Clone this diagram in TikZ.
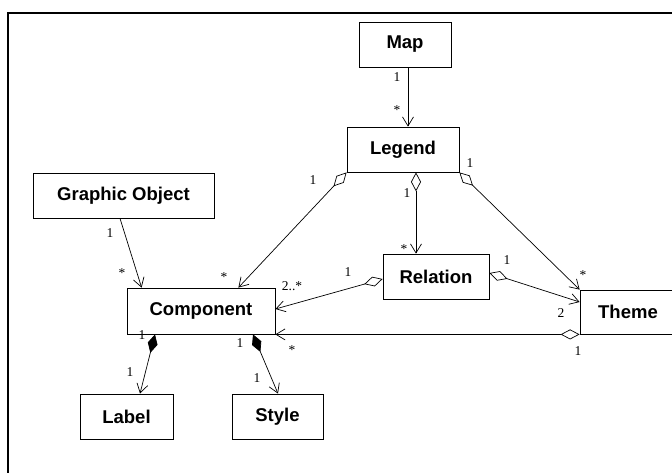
\documentclass[tikz,border=0pt]{standalone}
\usepackage{fontspec}
\setmainfont{Liberation Serif}
\setsansfont{Liberation Sans}
\usetikzlibrary{arrows.meta}

\begin{document}
\begin{tikzpicture}[
      x=1pt, y=-1pt,
      cls/.style={
        rectangle, draw, line width=0.8pt, inner sep=0pt,
        minimum height=45pt, font=\sffamily\bfseries\fontsize{18.5}{22}\selectfont
      },
      mult/.style={inner sep=0pt, font=\fontsize{13.5}{16}\selectfont},
      assoc/.style={line width=0.7pt, -{Straight Barb[length=9pt,width=11pt]}},
      aggr/.style={line width=0.7pt,
        {Diamond[open,length=19pt,width=10pt]}-{Straight Barb[length=9pt,width=11pt]}},
      compo/.style={line width=0.7pt,
        {Diamond[length=19pt,width=10pt]}-{Straight Barb[length=9pt,width=11pt]}}
    ]
    \useasboundingbox (0,0) rectangle (672,473);

    % frame
    \draw[line width=2.5pt] (8,473) -- (8,13) -- (672,13);

    % classes
    \node[cls, minimum width=92pt]  (map)  at (405,44.5)   {Map};
    \node[cls, minimum width=112pt] (leg)  at (403,149.5)  {Legend};
    \node[cls, minimum width=181pt] (gobj) at (123.5,195.5) {Graphic Object};
    \node[cls, minimum width=148pt, minimum height=46pt] (comp) at (201,311) {Component};
    \node[cls, minimum width=106pt] (rel)  at (436,276.5)  {Relation};
    \node[cls, minimum width=96pt, minimum height=44pt] (thm) at (628,312) {Theme};
    \node[cls, minimum width=93pt]  (lab)  at (126.5,416.5) {Label};
    \node[cls, minimum width=91pt]  (sty)  at (277.5,416.5) {Style};

    % associations
    \draw[assoc] ([xshift=3pt]map.south) -- ([xshift=5pt]leg.north);
    \draw[assoc] ([xshift=-3.5pt]gobj.south) -- ([xshift=15pt]comp.north west);
    \draw[aggr] (leg.south west) -- ([xshift=-37pt]comp.north east);
    \draw[aggr] ([xshift=13pt]leg.south) -- ([xshift=-20pt]rel.north);
    \draw[aggr] (leg.south east) -- (thm.north west);
    \draw[aggr] ([yshift=-2.5pt]rel.west) -- ([yshift=2pt]comp.east);
    \draw[aggr] ([yshift=3.5pt]rel.east) -- ([yshift=10pt]thm.west);
    \draw[aggr] (thm.south west) -- (comp.south east);
    \draw[compo] ([xshift=-46pt]comp.south) -- ([xshift=13.5pt]lab.north);
    \draw[compo] ([xshift=52pt]comp.south) -- ([xshift=0.5pt]sty.north);

    % multiplicities
    \node[mult] (m1)  at (397,77)  {1};
    \node[mult] (m2)  at (397,110) {*};
    \node[mult] (m3)  at (110,233) {1};
    \node[mult] (m4)  at (122,273) {*};
    \node[mult] (m5)  at (313,180) {1};
    \node[mult] (m6)  at (224,277) {*};
    \node[mult] (m7)  at (407,193) {1};
    \node[mult] (m8)  at (404,249) {*};
    \node[mult] (m9)  at (470,163) {1};
    \node[mult] (m10) at (583,275) {*};
    \node[mult] (m11) at (348,272) {1};
    \node[mult] (m12) at (292,286) {2..*};
    \node[mult] (m13) at (507,260) {1};
    \node[mult] (m14) at (561,313) {2};
    \node[mult] (m15) at (578,351) {1};
    \node[mult] (m16) at (292,350) {*};
    \node[mult] (m17) at (142,335) {1};
    \node[mult] (m18) at (130,372) {1};
    \node[mult] (m19) at (240,343) {1};
    \node[mult] (m20) at (257,378) {1};
  \end{tikzpicture}
\end{document}
